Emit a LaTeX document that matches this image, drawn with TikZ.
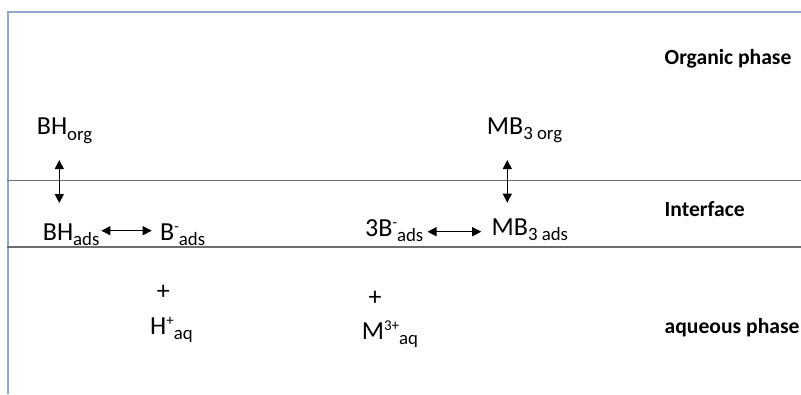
\documentclass[tikz,border=0pt]{standalone}
\usepackage{fontspec}
\setmainfont{Carlito}
\usetikzlibrary{arrows.meta,calc}
\definecolor{framec}{HTML}{8FA8CC}
\definecolor{linec}{HTML}{6E6E6E}
\newcommand{\mysb}[1]{\raisebox{-5.5bp}{\fontsize{18.8bp}{19bp}\selectfont #1}}
\newcommand{\mysp}[1]{\raisebox{9bp}{\fontsize{15bp}{15bp}\selectfont #1}}
\begin{document}
\begin{tikzpicture}[x=1bp,y=-1bp,
  chem/.style={inner sep=0pt, anchor=base west, font=\fontsize{26bp}{30bp}\selectfont},
  phase/.style={inner sep=0pt, anchor=base west, font=\bfseries\fontsize{21.6bp}{25bp}\selectfont},
  arr/.style={{Triangle[length=9bp,width=9bp]}-{Triangle[length=9bp,width=9bp]}, line width=1.3bp},
  sep/.style={draw=linec, line width=1.4bp},
  fr/.style={draw=framec, line width=2bp}]
\useasboundingbox (0,0) rectangle (801,394);
\fill[white] (0,0) rectangle (801,394);
\draw[fr] (8,394) -- (8,11.5) -- (801,11.5);
\draw[sep] (7,180.7) -- (801,180.7);
\draw[sep] (7,247) -- (801,247);
% chemical species
\node[chem] (bhorg) at (36.7,134.5) {BH\mysb{org}};
\node[chem] (bhads) at (42.7,240) {BH\mysb{ads}};
\node[chem] (bads) at (160,240) {B\mysp{-}\mysb{ads}};
\node[chem,anchor=center] (plusa) at (163.3,292.7) {+};
\node[chem] (haq) at (150,334.3) {H\mysp{+}\mysb{aq}};
\node[chem,anchor=center] (plusb) at (375,298.3) {+};
\node[chem] (maq) at (361.7,339.3) {M\mysp{3+}\mysb{aq}};
\node[chem] (bthree) at (365,236) {3B\mysp{-}\mysb{ads}};
\node[chem] (mbads) at (491.5,235) {MB\mysb{3 ads}};
\node[chem] (mborg) at (486.7,134.3) {MB\mysb{3 org}};
% phase labels
\node[phase] (org) at (664.5,64) {Organic phase};
\node[phase] (int) at (664.5,216) {Interface};
\node[phase] (aq) at (664.5,333) {aqueous phase};
% connectors
\coordinate (va) at (59.3,0);
\coordinate (vb) at (507.3,0);
\draw[arr] ($(bhorg.base -| va)+(0,25.5)$) -- ($(bhads.base -| va)+(0,-37)$);
\draw[arr] ($(mborg.base -| vb)+(0,25.7)$) -- ($(mbads.base -| vb)+(0,-32.3)$);
\draw[arr] ($(bhads.base east)+(1.7,-9.3)$) -- ($(bads.base west)+(-8.3,-9.3)$);
\draw[arr] ($(bthree.base east)+(4,-4.3)$) -- ($(mbads.base west)+(-10.3,-3.3)$);
\end{tikzpicture}
\end{document}
